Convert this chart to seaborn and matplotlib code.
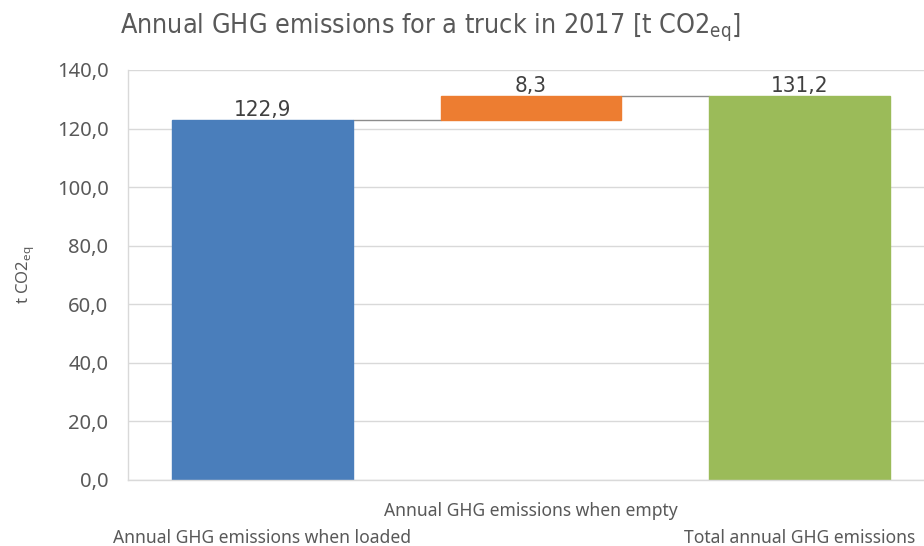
import matplotlib
matplotlib.use("Agg")
import matplotlib.pyplot as plt
from matplotlib import font_manager
import numpy as np
import pandas as pd
import seaborn as sns

CATEGORIES = [
    "Annual GHG emissions when loaded",
    "Annual GHG emissions when empty",
    "Total annual GHG emissions",
]
VALUES = [122.9, 8.3, 131.2]
IS_TOTAL = [False, False, True]
BAR_COLORS = ["#4a7ebb", "#ed7d31", "#9bbb59"]
Y_TICKS = [0, 20, 40, 60, 80, 100, 120, 140]

TEXT_GRAY = "#595959"


def fmt(value: float) -> str:
    return f"{value:.1f}".replace(".", ",")


def narrow_font():
    # prefer a condensed face, otherwise Arial-like metrics
    for fam, stretch, scale in [("Liberation Sans Narrow", "normal", 1.0),
                                ("DejaVu Sans", "condensed", 0.74)]:
        try:
            path = font_manager.findfont(
                font_manager.FontProperties(family=fam, stretch=stretch),
                fallback_to_default=False)
        except ValueError:
            continue
        if "Narrow" in path or "Condensed" in path:
            return {"family": [fam, "DejaVu Sans"], "stretch": stretch}, scale
    return {"family": ["Liberation Sans", "DejaVu Sans"]}, 0.84


# waterfall: running total gives the floating base of each step
bottoms = []
running = 0.0
for value, total in zip(VALUES, IS_TOTAL):
    if total:
        bottoms.append(0.0)
        running = value
    else:
        bottoms.append(running)
        running += value
tops = [b + v for b, v in zip(bottoms, VALUES)]

df = pd.DataFrame({"category": CATEGORIES, "value": VALUES, "base": bottoms})

sns.set_theme(style="white")
plt.rcParams["font.family"] = ["Noto Sans", "DejaVu Sans"]
NARROW, TITLE_SCALE = narrow_font()

fig = plt.figure(figsize=(9.24, 5.46), dpi=100)
ax = fig.add_axes([128 / 924, 1 - 480 / 546, 806 / 924, 410 / 546])

bar_width = 0.673
sns.barplot(data=df, x="category", y="value", bottom=df["base"].to_numpy(),
            color=BAR_COLORS[0], width=bar_width, saturation=1,
            errorbar=None, ax=ax, zorder=2)
for patch, color in zip(ax.patches, BAR_COLORS):
    patch.set_facecolor(color)
    patch.set_edgecolor(color)

# connectors between consecutive bars
for i in range(len(VALUES) - 1):
    level = tops[i]
    ax.plot([i + bar_width / 2, i + 1 - bar_width / 2], [level, level],
            color="#8c8c8c", lw=1.0, zorder=1)

ax.bar_label(ax.containers[0], labels=[fmt(v) for v in VALUES], padding=0,
             color="#404040", fontsize=16, **NARROW)

ax.set_ylim(0, 140)
ax.set_xlim(-0.5, 2.5)
ax.set_yticks(Y_TICKS)
ax.set_yticklabels([fmt(t) for t in Y_TICKS], color=TEXT_GRAY, fontsize=14.5)
ax.yaxis.grid(True, color="#d9d9d9", lw=1)
ax.set_axisbelow(True)

ax.set_xticks(range(len(CATEGORIES)))
ax.set_xticklabels([("" if i % 2 else "\n") + c for i, c in enumerate(CATEGORIES)],
                   color=TEXT_GRAY, fontsize=12.6)
for label in ax.get_xticklabels():
    label.set_linespacing(1.6)
ax.tick_params(axis="x", length=0, pad=16)
ax.tick_params(axis="y", length=0, pad=14)

ax.set_xlabel("")
ax.set_ylabel("t CO2$_{\\mathregular{eq}}$", color=TEXT_GRAY, fontsize=12, labelpad=14)

for side in ["top", "right"]:
    ax.spines[side].set_visible(False)
for side in ["left", "bottom"]:
    ax.spines[side].set_color("#d9d9d9")
    ax.spines[side].set_linewidth(1)

fig.text(431 / 924, 1 - 28 / 546,
         "Annual GHG emissions for a truck in 2017 [t CO2$_{\\mathregular{eq}}$]",
         ha="center", va="center", fontsize=26 * TITLE_SCALE, color=TEXT_GRAY, **NARROW)

fig.savefig("out.png", dpi=100)
